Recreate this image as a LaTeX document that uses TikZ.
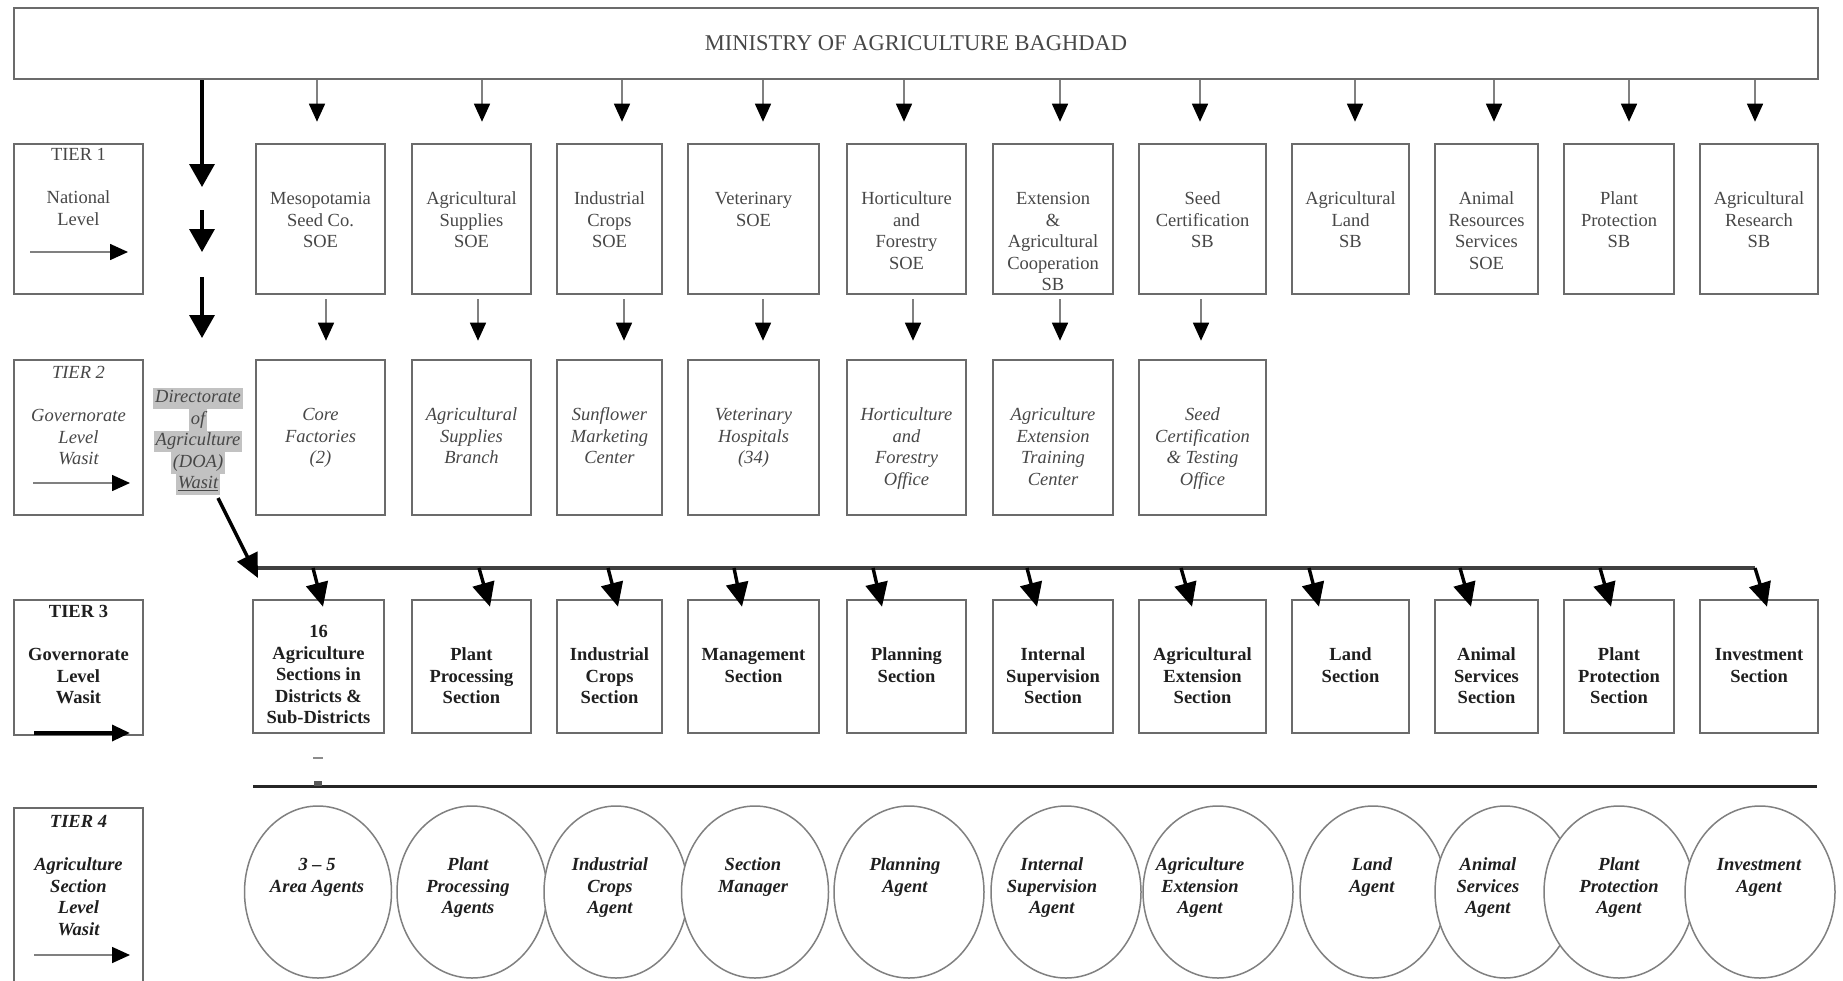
\documentclass[tikz,border=0pt]{standalone}
\usepackage{fontspec}
\setmainfont{Liberation Serif}
\usetikzlibrary{arrows.meta,shapes.geometric,calc}
\newcommand\myfs{\fontsize{18.5}{21.5}\selectfont}
\newcommand\minfs{\fontsize{22.5}{26}\selectfont}
\definecolor{boxgray}{gray}{0.42}
\definecolor{hlgray}{gray}{0.76}
\setlength{\fboxsep}{0pt}
\newcommand\hlline[1]{\colorbox{hlgray}{\hspace{2pt}\strut #1\hspace{2pt}}}
\begin{document}
\begin{tikzpicture}[x=1pt,y=-1pt,
  box/.style={draw=boxgray,line width=2.6pt,inner sep=0pt},
  txt/.style={align=center,inner sep=0pt,anchor=north,font=\myfs,text=black!72},
  tone/.style={txt},
  ttwo/.style={txt,font=\myfs\itshape},
  tthree/.style={txt,font=\myfs\bfseries,text=black!88},
  tfour/.style={txt,font=\myfs\bfseries\itshape,text=black!88},
  ell/.style={ellipse,draw=black!50,line width=1.5pt,fill=white,inner sep=0pt,minimum height=172pt},
  thinarr/.style={draw=black!50,line width=1.6pt,-{Triangle[width=16pt,length=18pt,color=black]}},
  bigarr/.style={draw=black,line width=3.4pt,-{Triangle[width=22pt,length=24pt]}},
  busline/.style={draw=black!75,line width=4pt},
  sepline/.style={draw=black!85,line width=3pt},
]
\fill[white] (0,0) rectangle (1843,980);
\useasboundingbox (0,0) rectangle (1843,980);

% Ministry
\node[box,minimum width=1804pt,minimum height=71pt,font=\minfs,text=black!72] (min) at (916,43.5) {MINISTRY OF AGRICULTURE BAGHDAD};

% Tier label boxes
\node[box,minimum width=129pt,minimum height=150pt] (lab1) at (78.5,219) {};
\node[box,minimum width=129pt,minimum height=155pt] (lab2) at (78.5,437.5) {};
\node[box,minimum width=129pt,minimum height=135pt] (lab3) at (78.5,667.5) {};
\node[box,minimum width=129pt,minimum height=200pt] (lab4) at (78.5,908) {};
\node[tone] (lab1t) at (78.5,145.5) {\strut TIER 1\\[21.5pt]National\\Level};
\node[ttwo] (lab2t) at (78.5,363.5) {\strut TIER 2\\[21.5pt]Governorate\\Level\\Wasit};
\node[tthree] (lab3t) at (78.5,602.5) {\strut TIER 3\\[21.5pt]Governorate\\Level\\Wasit};
\node[tfour] (lab4t) at (78.5,812.5) {\strut TIER 4\\[21.5pt]Agriculture\\Section\\Level\\Wasit};
\coordinate (la1s) at (30,252);  \coordinate (la1e) at (128,252);
\coordinate (la2s) at (33,483);  \coordinate (la2e) at (130,483);
\coordinate (la3s) at (34,733);  \coordinate (la3e) at (130,733);
\coordinate (la4s) at (34,955);  \coordinate (la4e) at (130,955);
\draw[thinarr] (la1s) -- (la1e);
\draw[thinarr] (la2s) -- (la2e);
\draw[draw=black,line width=3.4pt,-{Triangle[width=16pt,length=18pt]}] (la3s) -- (la3e);
\draw[thinarr] (la4s) -- (la4e);

% Tier 1 boxes
\foreach \i/\l/\r/\tx in {
 1/256/385/{Mesopotamia\\Seed Co.\\SOE},
 2/412/531/{Agricultural\\Supplies\\SOE},
 3/557/662/{Industrial\\Crops\\SOE},
 4/688/819/{Veterinary\\SOE},
 5/847/966/{Horticulture\\and\\Forestry\\SOE},
 6/993/1113/{Extension\\\&\\Agricultural\\Cooperation\\SB},
 7/1139/1266/{Seed\\Certification\\SB},
 8/1292/1409/{Agricultural\\Land\\SB},
 9/1435/1538/{Animal\\Resources\\Services\\SOE},
 10/1564/1674/{Plant\\Protection\\SB},
 11/1700/1818/{Agricultural\\Research\\SB}}{
  \node[box,minimum width={\r-\l},minimum height=150pt] (ta\i) at ({(\l+\r)/2},219) {};
  \node[tone] (ta\i-t) at ({(\l+\r)/2},189.5) {\strut\tx};
}

% Tier 2 boxes
\foreach \i/\l/\r/\tx in {
 1/256/385/{Core\\Factories\\(2)},
 2/412/531/{Agricultural\\Supplies\\Branch},
 3/557/662/{Sunflower\\Marketing\\Center},
 4/688/819/{Veterinary\\Hospitals\\(34)},
 5/847/966/{Horticulture\\and\\Forestry\\Office},
 6/993/1113/{Agriculture\\Extension\\Training\\Center},
 7/1139/1266/{Seed\\Certification\\\& Testing\\Office}}{
  \node[box,minimum width={\r-\l},minimum height=155pt] (tb\i) at ({(\l+\r)/2},437.5) {};
  \node[ttwo] (tb\i-t) at ({(\l+\r)/2},405.5) {\strut\tx};
}

% Tier 3 boxes
\foreach \i/\l/\r/\top/\tx in {
 1/253/384/622.5/{16\\Agriculture\\Sections in\\Districts \&\\Sub-Districts},
 2/412/531/645.5/{Plant\\Processing\\Section},
 3/557/662/645.5/{Industrial\\Crops\\Section},
 4/688/819/645.5/{Management\\Section},
 5/847/966/645.5/{Planning\\Section},
 6/993/1113/645.5/{Internal\\Supervision\\Section},
 7/1139/1266/645.5/{Agricultural\\Extension\\Section},
 8/1292/1409/645.5/{Land\\Section},
 9/1435/1538/645.5/{Animal\\Services\\Section},
 10/1564/1674/645.5/{Plant\\Protection\\Section},
 11/1700/1818/645.5/{Investment\\Section}}{
  \node[box,minimum width={\r-\l},minimum height=133pt] (tc\i) at ({(\l+\r)/2},666.5) {};
  \node[tthree] (tc\i-t) at ({(\l+\r)/2},\top) {\strut\tx};
}

% Ministry -> tier 1 arrows
\foreach \x [count=\i] in {317,482,622,763,904,1060,1200,1355,1494,1629,1755}{
  \draw[thinarr,shorten >=21pt] (min.south -| \x,0) -- (ta\i.north -| \x,0);
}
% Tier 1 -> tier 2 arrows
\foreach \x [count=\i] in {326,478,624,763,913,1060,1201}{
  \draw[thinarr,shorten <=4pt,shorten >=18pt] (ta\i.south -| \x,0) -- (tb\i.north -| \x,0);
}

% Directorate of Agriculture
\node[txt,font=\myfs\itshape,text=black!72] (doa) at (198,387.5)
  {\hlline{Directorate}\\\hlline{of}\\\hlline{Agriculture}\\\hlline{(DOA)}\\\hlline{\underline{Wasit}}};

% left thick arrows
\coordinate (v1e) at (202,187);
\coordinate (v2s) at (202,210); \coordinate (v2e) at (202,252);
\coordinate (v3s) at (202,277); \coordinate (v3e) at (202,338);
\draw[draw=black,line width=3.4pt,-{Triangle[width=25pt,length=23pt]}] (min.south -| v1e) -- (v1e);
\draw[draw=black,line width=3.4pt,-{Triangle[width=25pt,length=23pt]}] (v2s) -- (v2e);
\draw[draw=black,line width=3.4pt,-{Triangle[width=25pt,length=23pt]}] (v3s) -- (v3e);

% bus
\coordinate (busL) at (253,568);
\coordinate (busR) at (1755,568);
\coordinate (doaS) at (218,498);
\coordinate (doaE) at (258,578);
\draw[busline] (busL) -- (busR);
\draw[bigarr] (doaS) -- (doaE);
\foreach \s/\t [count=\i] in {313/323,479/490,608/618,734/742,873/882,1027/1037,1181/1192,1309/1319,1460/1471,1600/1611,1755/1767}{
  \draw[bigarr] (busL -| \s,0) -- ($(tc\i.north -| \t,0)+(0,8)$);
}

% separator and marks
\coordinate (sepL) at (253,786);
\coordinate (sepR) at (1817,786);
\draw[sepline] (sepL) -- (sepR);
\draw[black!45,line width=2pt] (313,758) -- (323,758);
\fill[black!65] (314,781) rectangle (322,786);

% Tier 4 ellipses
\foreach \i/\cx/\w in {1/318/147,2/472/150,3/616/144,4/755/147,5/909/150,6/1066/150,7/1218/150,8/1373/146,9/1505/140,10/1619/150,11/1760/150}{
  \node[ell,minimum width={\w*1pt}] (e\i) at (\cx,892) {};
}
\foreach \i/\cx/\tx in {
 1/317/{3 – 5\\Area Agents},
 2/468/{Plant\\Processing\\Agents},
 3/610/{Industrial\\Crops\\Agent},
 4/753/{Section\\Manager},
 5/905/{Planning\\Agent},
 6/1052/{Internal\\Supervision\\Agent},
 7/1200/{Agriculture\\Extension\\Agent},
 8/1372/{Land\\Agent},
 9/1488/{Animal\\Services\\Agent},
 10/1619/{Plant\\Protection\\Agent},
 11/1759/{Investment\\Agent}}{
  \node[tfour] (e\i-t) at (\cx,855.5) {\strut\tx};
}
\end{tikzpicture}
\end{document}
